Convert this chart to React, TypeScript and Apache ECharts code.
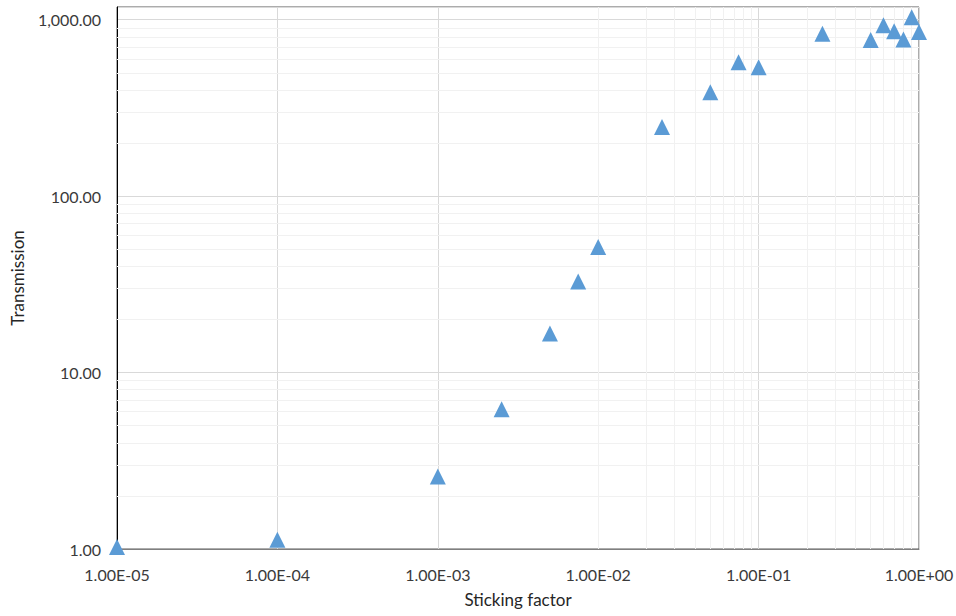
import React, { useEffect, useRef } from "react";
import * as echarts from "echarts";

const stickingFactor = [1e-5, 1e-4, 1e-3, 2.5e-3, 5e-3, 7.5e-3, 1e-2, 2.5e-2, 5e-2, 7.5e-2, 1e-1, 0.25, 0.5, 0.6, 0.7, 0.8, 0.9, 1.0];
const transmission = [1.0, 1.1, 2.51, 6.04, 16.2, 32.0, 50.1, 240, 378, 559, 524, 812, 748, 906, 838, 751, 1007, 830];

const xMin = 1e-5;
const xMax = 1;
const yMin = 1;
const yMax = 1180;

const xMinorValues: number[] = [];
for (let e = -5; e < 0; e++) for (let m = 2; m <= 9; m++) xMinorValues.push(m * Math.pow(10, e));
const yMinorValues: number[] = [];
for (let e = 0; e < 3; e++) for (let m = 2; m <= 9; m++) yMinorValues.push(m * Math.pow(10, e));

const FONT = "Lato";

function fmtSci(v: number): string {
  const e = Math.round(Math.log10(v));
  const mant = v / Math.pow(10, e);
  const sign = e < 0 ? "-" : "+";
  return `${mant.toFixed(2)}E${sign}${String(Math.abs(e)).padStart(2, "0")}`;
}

function fmtY(v: number): string {
  return v.toLocaleString("en-US", { minimumFractionDigits: 2, maximumFractionDigits: 2 });
}

export default function App() {
  const ref = useRef<HTMLDivElement>(null);
  useEffect(() => {
    if (!ref.current) return;
    const chart = echarts.init(ref.current, undefined, { renderer: "svg" });
    const minorStyle = { color: "#f1f1f1", width: 1, type: "solid" as const };
    chart.setOption({
      animation: false,
      backgroundColor: "#ffffff",
      grid: {
        left: 117,
        right: 37,
        top: 7,
        bottom: 67,
        show: true,
        borderColor: "#595959",
        borderWidth: 1,
        containLabel: false,
        outerBoundsMode: "none",
      },
      xAxis: {
        type: "log",
        logBase: 10,
        min: xMin,
        max: xMax,
        name: "Sticking factor",
        nameLocation: "middle",
        nameGap: 42,
        nameTextStyle: { fontFamily: FONT, fontSize: 17, color: "#262626" },
        axisLine: { show: true, lineStyle: { color: "#7f7f7f", width: 1 } },
        axisTick: { show: false },
        axisLabel: {
          fontFamily: FONT,
          fontSize: 16,
          color: "#3a3a3a",
          margin: 17,
          formatter: (v: number) => fmtSci(v),
        },
        splitLine: { show: true, lineStyle: { color: "#d9d9d9", width: 1 } },
      },
      yAxis: {
        type: "log",
        logBase: 10,
        min: yMin,
        max: yMax,
        name: "Transmission",
        nameLocation: "middle",
        nameGap: 91,
        nameRotate: 90,
        nameTextStyle: { fontFamily: FONT, fontSize: 17, color: "#262626" },
        axisLine: { show: true, lineStyle: { color: "#000000", width: 1 } },
        axisTick: { show: false },
        axisLabel: {
          fontFamily: FONT,
          fontSize: 16,
          color: "#3a3a3a",
          margin: 16,
          showMaxLabel: false,
          formatter: (v: number) => (v > 1001 ? "" : fmtY(v)),
        },
        splitLine: { show: true, lineStyle: { color: "#d9d9d9", width: 1 } },
      },
      series: [
        {
          type: "line",
          data: [],
          z: 1,
          silent: true,
          markLine: {
            silent: true,
            symbol: ["none", "none"],
            label: { show: false },
            lineStyle: minorStyle,
            emphasis: { disabled: true },
            data: [
              ...xMinorValues.map((v) => ({ xAxis: v, lineStyle: minorStyle })),
              ...yMinorValues.map((v) => ({ yAxis: v, lineStyle: minorStyle })),
            ],
          },
        },
        {
          type: "scatter",
          z: 5,
          symbol: "triangle",
          symbolSize: [16, 16],
          symbolOffset: [0, -2],
          itemStyle: { color: "#5b9bd5", opacity: 1 },
          clip: false,
          data: stickingFactor.map((x, i) => [x, transmission[i]]),
        },
      ],
    });
    return () => chart.dispose();
  }, []);
  return (
    <div
      ref={ref}
      style={{ position: "absolute", left: 0, top: 0, width: 956, height: 616, background: "#fff" }}
    />
  );
}
